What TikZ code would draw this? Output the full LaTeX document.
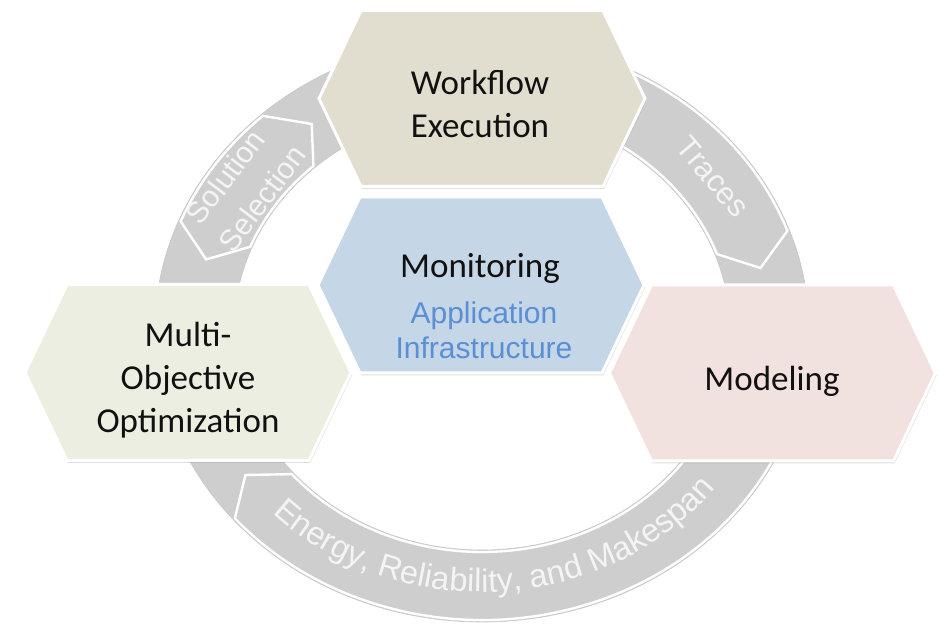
\documentclass[tikz,border=0pt]{standalone}
\usepackage{fontspec}
\setmainfont{Carlito}
\newfontfamily\arialfont{Liberation Sans}
\usetikzlibrary{shadows,decorations.text,calc}

\definecolor{ringgray}{HTML}{CECECE}
\definecolor{ringtxt}{HTML}{F4F4F4}
\definecolor{wfbeige}{HTML}{E2DECF}
\definecolor{monblue}{HTML}{C5D6E7}
\definecolor{mooliv}{HTML}{ECEEE1}
\definecolor{mdlrose}{HTML}{F2E2DF}
\definecolor{appblue}{HTML}{5A8FD5}
\definecolor{hexink}{HTML}{111111}

% hexagon centred on a named coordinate
\newcommand\hexshape[2]{%
  \filldraw[hexbox, fill=#2, shift={(#1)}]
    (-121,88) -- (121,88) -- (163,0) -- (121,-88) -- (-121,-88) -- (-163,0) -- cycle;}

% curved chevron on the ring: tail angle, head apex angle, head end angle, tail point angle
\newcommand\chevron[4]{%
  \filldraw[chev]
    ($(rc)+(#1:325 and 290)$) arc[start angle=#1, end angle=#3, x radius=325, y radius=290]
    -- ($(rc)+(#2:287 and 256)$)
    -- ($(rc)+(#3:250 and 222)$) arc[start angle=#3, end angle=#1, x radius=250, y radius=222]
    -- ($(rc)+(#4:287 and 256)$) -- cycle;}

\tikzset{
  hexbox/.style={draw=white, line width=1.5pt, line join=miter,
    drop shadow={shadow xshift=0.6pt, shadow yshift=-1.2pt, opacity=0.25}},
  chev/.style={fill=ringgray, draw=white, line width=1.2pt, line join=miter},
  ringline/.style={draw=black!22, line width=0.3pt},
  ringtext/.style={text=ringtxt, font=\arialfont\fontsize{15}{17}\selectfont, inner sep=0pt},
  hextext/.style={font=\fontsize{17.5}{21.5}\selectfont, text=hexink, align=center, inner sep=0pt},
  apptext/.style={font=\arialfont\fontsize{15}{17.5}\selectfont, text=appblue, align=center, inner sep=0pt},
}

\begin{document}
\begin{tikzpicture}[x=0.5pt,y=0.5pt]
\useasboundingbox (0,0) rectangle (939,626);

% ring
\coordinate (rc) at (482,296);
\fill[ringgray, even odd rule] (rc) ellipse[x radius=327, y radius=292]
                               (rc) ellipse[x radius=248, y radius=220];
\draw[ringline] (rc) ellipse[x radius=327, y radius=292];
\draw[ringline] (rc) ellipse[x radius=248, y radius=220];

% chevrons along the cycle
\chevron{75}{14}{20}{81}
\chevron{345}{214.5}{220.5}{351}
\chevron{158}{126.4}{132.4}{164}

% ring labels
\node[ringtext, rotate=53] (sol1) at (225,449.3) {Solution};
\node[ringtext, rotate=53] (sol2) at (261.7,427.7) {Selection};
\node[ringtext, rotate=-50, font=\arialfont\fontsize{15.5}{17}\selectfont] (trc) at (713,449) {Traces};
\path[decorate, decoration={text along path, text align=center,
    text={|\arialfont\fontsize{16.3}{18}\selectfont\color{ringtxt}|Energy, Reliability, and Makespan}}]
  ($(rc)+(205:293 and 262)$) arc[start angle=205, end angle=342.5, x radius=293, y radius=262];

% hexagons
\coordinate (wfc) at (482,527.5);
\coordinate (monc) at (481,341);
\coordinate (mooc) at (188,253.5);
\coordinate (mdlc) at (772.5,253);
\hexshape{wfc}{wfbeige}
\hexshape{mooc}{mooliv}
\hexshape{mdlc}{mdlrose}
\hexshape{monc}{monblue}

% hexagon labels
\node[hextext] (wf) at (480,522) {Workflow\\Execution};
\node[hextext] (mon) at (480,358) {Monitoring};
\node[apptext] (app) at (484,296) {Application\\Infrastructure};
\node[hextext] (moo) at (188,246) {Multi-\\Objective\\Optimization};
\node[hextext] (mdl) at (772,245) {Modeling};
\end{tikzpicture}
\end{document}
